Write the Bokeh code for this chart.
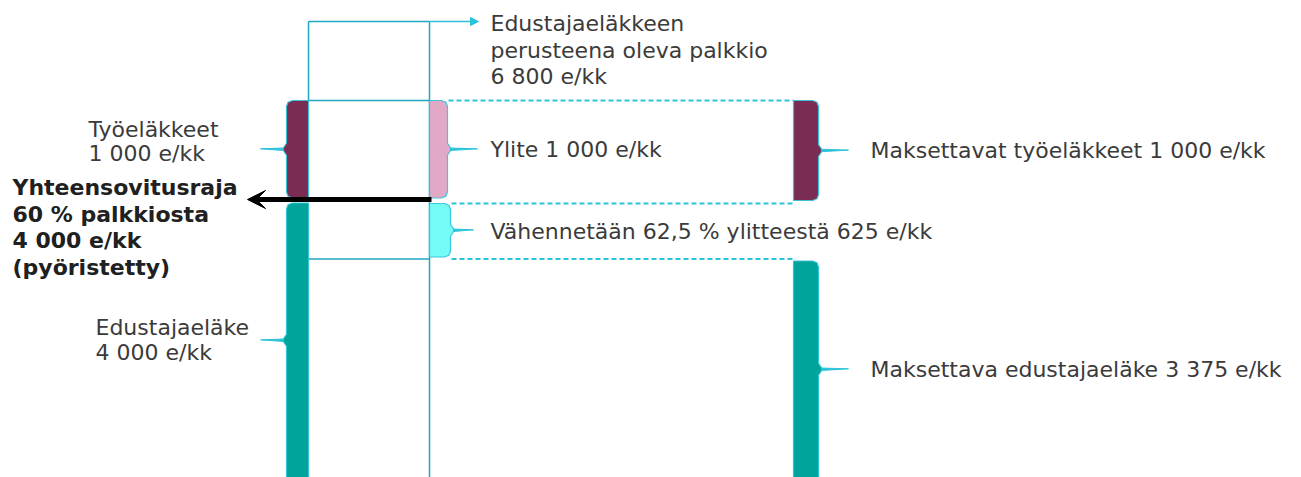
from bokeh.plotting import figure
from bokeh.models import Range1d, Arrow, VeeHead, NormalHead
from bokeh.core.properties import value
from bokeh.embed import file_html
from bokeh.resources import INLINE

# ---- data (e/kk) ----
salary = 6800            # Edustajaeläkkeen perusteena oleva palkkio
work_pension = 1000      # Työeläkkeet
limit = 4000             # Yhteensovitusraja (60 % palkkiosta, pyöristetty)
rep_pension = 4000       # Edustajaeläke
excess = 1000            # Ylite
reduction_pct = 62.5
reduction = 625          # Vähennetään 62,5 % ylitteestä
payable_rep = rep_pension - reduction   # 3 375
payable_work = work_pension

labels_salary = ["Edustajaeläkkeen", "perusteena oleva palkkio", "6 800 e/kk"]
labels_work = ["Työeläkkeet", "1 000 e/kk"]
labels_limit = ["Yhteensovitusraja", "60 % palkkiosta", "4 000 e/kk", "(pyöristetty)"]
labels_rep = ["Edustajaeläke", "4 000 e/kk"]
label_excess = "Ylite 1 000 e/kk"
label_reduction = "Vähennetään 62,5 % ylitteestä 625 e/kk"
label_pay_work = "Maksettavat työeläkkeet 1 000 e/kk"
label_pay_rep = "Maksettava edustajaeläke 3 375 e/kk"

# ---- colours / layout ----
MAROON = "#7B2C53"
PINK = "#E1A9C6"
TEAL = "#00A49B"
LCYAN = "#74FBF6"
EDGE = "#2CC3DA"
BOX = "#1FA6C2"
TXT = "#3B3B3B"
FONT = value("DejaVu Sans")

W, H = 1301, 477
# y is in euros: 0.1 px per euro, 0 e at image y=600 (schematic, bars run off the bottom)
def ey(px):
    return (600 - px) * 10.0

p = figure(width=W, height=H, output_backend="svg", toolbar_location=None,
           x_range=Range1d(0, W), y_range=Range1d(ey(H), ey(0)),
           min_border=0, outline_line_color=None)
p.axis.visible = False
p.grid.visible = False
p.background_fill_color = "white"

floor_vis = ey(477)          # visible bottom of the running-off bars
box_top = ey(21)             # schematic top of the salary box
gap = 25

def brace_bar(x_in, x_out, top, bot, color, tip_end, tip_y=None):
    s = 1 if x_out > x_in else -1
    if tip_y is None:
        tip_y = (top + max(bot, floor_vis)) / 2
    r, ry = 6, 60
    xs = [x_in, x_out - s * r, x_out - s * r * 0.25, x_out, x_out,
          x_out + s * 4, x_out, x_out, x_out - s * r * 0.25, x_out - s * r, x_in]
    ys = [top, top, top - ry * 0.3, top - ry, tip_y + 60, tip_y, tip_y - 60,
          bot + ry, bot + ry * 0.3, bot, bot]
    p.patch(xs, ys, fill_color=color, line_color=EDGE, line_width=1.2, line_alpha=0.9)
    p.patch([x_out + s * 3, tip_end, x_out + s * 3],
            [tip_y + 12, tip_y + 4, tip_y - 12], fill_color=EDGE, line_color=EDGE,
            line_width=1)

top_work = limit + work_pension

# salary box lines
p.segment(x0=[308, 429, 308, 308], y0=[box_top, box_top, box_top, top_work],
          x1=[308, 429, 429, 429], y1=[top_work, ey(480), box_top, top_work],
          line_color=BOX, line_width=1.5)
p.segment(x0=[308], y0=[payable_rep + 40], x1=[429], y1=[payable_rep + 40],
          line_color=BOX, line_width=1.5)
p.add_layout(Arrow(end=NormalHead(size=8, fill_color=EDGE, line_color=EDGE),
                   x_start=429, y_start=box_top, x_end=478, y_end=box_top,
                   line_color=EDGE, line_width=1.5))

# dashed guides
p.segment(x0=[448, 451, 451], y0=[top_work, limit - 30, payable_rep + 40],
          x1=[793, 793, 793], y1=[top_work, limit - 30, payable_rep + 40],
          line_color=EDGE, line_width=2, line_dash="5 3")

# left column
brace_bar(308, 286, top_work, limit + gap, MAROON, 260)
brace_bar(308, 286, limit - gap, limit - rep_pension, TEAL, 260)

# excess / reduction column
brace_bar(429, 447, top_work, limit + gap, PINK, 477)
brace_bar(429, 450, limit - 30, payable_rep + 60, LCYAN, 473)

# right column
brace_bar(793, 818, top_work, limit, MAROON, 848)
brace_bar(793, 818, payable_rep + 20, payable_rep - rep_pension, TEAL, 848)

# limit arrow
p.add_layout(Arrow(end=VeeHead(size=18, fill_color="black", line_color="black"),
                   x_start=431, y_start=limit + 10, x_end=247, y_end=limit + 10,
                   line_color="black", line_width=5))

def txt(x, y, t, size="22px", bold=False, color=TXT):
    p.text(x=[x], y=[y], text=[t], text_font=FONT, text_font_size=size,
           text_font_style="bold" if bold else "normal", text_color=color,
           text_baseline="middle", text_align="left")

for i, t in enumerate(labels_salary):
    txt(490, ey(23 + 26.5 * i), t)
for i, t in enumerate(labels_work):
    txt(88, ey(129 + 24 * i), t)
for i, t in enumerate(labels_limit):
    txt(12, ey(187 + 26.5 * i), t, bold=True, color="#202020")
for i, t in enumerate(labels_rep):
    txt(95, ey(327 + 25 * i), t)
txt(490, ey(149), label_excess)
txt(490, ey(231), label_reduction)
txt(870, ey(150), label_pay_work)
txt(870, ey(369), label_pay_rep)

open("out.html", "w").write(file_html(p, INLINE))
